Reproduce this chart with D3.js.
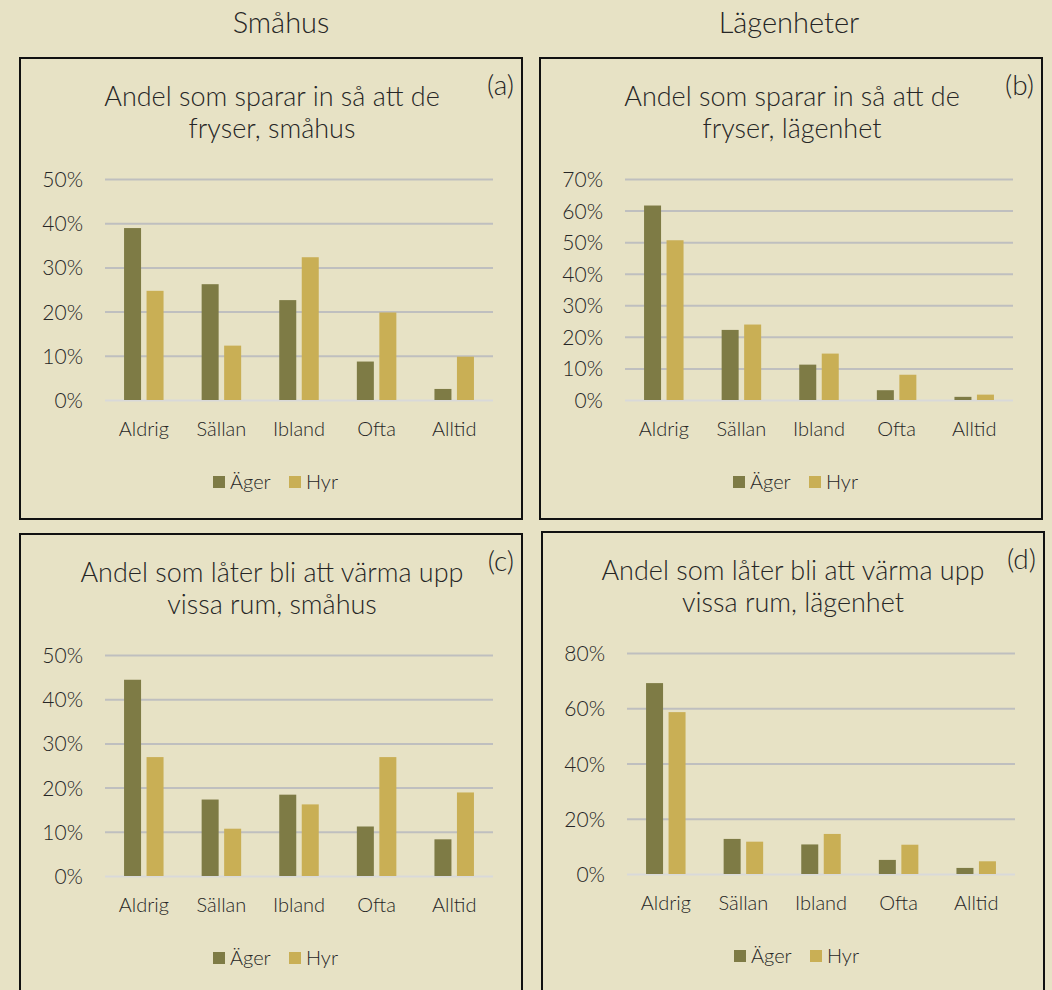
<!DOCTYPE html>
<html>
<head>
<meta charset="UTF-8">
<title>Andel som sparar in / värmer upp</title>
<script src="https://cdn.jsdelivr.net/npm/d3@7"></script>
<style>
  body { margin: 0; background: #e7e2c5; }
  svg text { font-family: Lato, "Open Sans", sans-serif; font-weight: 300; fill: #262626; }
</style>
</head>
<body>
<svg id="chart" width="1052" height="990"></svg>
<script>
// data
var categories = ["Aldrig", "Sällan", "Ibland", "Ofta", "Alltid"];
var seriesNames = ["Äger", "Hyr"];
var colors = ["#7e7b45", "#c9af55"];

var agerA = [38.9, 26.2, 22.6, 8.7, 2.5];
var hyrA  = [24.7, 12.3, 32.3, 19.8, 9.8];
var agerB = [61.6, 22.2, 11.2, 3.1, 1.0];
var hyrB  = [50.6, 23.9, 14.7, 8.0, 1.7];
var agerC = [44.4, 17.3, 18.4, 11.2, 8.3];
var hyrC  = [26.9, 10.7, 16.2, 26.9, 18.9];
var agerD = [69.1, 12.7, 10.7, 5.1, 2.2];
var hyrD  = [58.6, 11.7, 14.5, 10.6, 4.6];

var ticksA = [0, 10, 20, 30, 40, 50];
var ticksB = [0, 10, 20, 30, 40, 50, 60, 70];
var ticksD = [0, 20, 40, 60, 80];

var panels = [
  { box: [20, 58, 502, 461], title: ["Andel som sparar in så att de", "fryser, småhus"], tag: "(a)",
    ager: agerA, hyr: hyrA, ticks: ticksA, plot: [105, 179, 493, 400], cx: 272 },
  { box: [540, 58, 502, 461], title: ["Andel som sparar in så att de", "fryser, lägenhet"], tag: "(b)",
    ager: agerB, hyr: hyrB, ticks: ticksB, plot: [625, 179, 1013, 400], cx: 792 },
  { box: [20, 534, 502, 470], title: ["Andel som låter bli att värma upp", "vissa rum, småhus"], tag: "(c)",
    ager: agerC, hyr: hyrC, ticks: ticksA, plot: [105, 655, 493, 876], cx: 272 },
  { box: [542, 532, 502, 470], title: ["Andel som låter bli att värma upp", "vissa rum, lägenhet"], tag: "(d)",
    ager: agerD, hyr: hyrD, ticks: ticksD, plot: [627, 653, 1015, 874], cx: 793 }
];

var svg = d3.select("#chart");

// column headings
svg.append("text").attr("x", 281).attr("y", 33).attr("text-anchor", "middle")
   .style("font-size", "29px").text("Småhus");
svg.append("text").attr("x", 789).attr("y", 33).attr("text-anchor", "middle")
   .style("font-size", "29px").text("Lägenheter");

panels.forEach(function(p) {
  var g = svg.append("g");
  g.append("rect")
    .attr("x", p.box[0]).attr("y", p.box[1])
    .attr("width", p.box[2]).attr("height", p.box[3])
    .attr("fill", "none").attr("stroke", "#111").attr("stroke-width", 2);

  var x0 = p.plot[0], y0 = p.plot[1], x1 = p.plot[2], y1 = p.plot[3];
  var cx = p.cx;

  p.title.forEach(function(line, i) {
    g.append("text").attr("x", cx).attr("y", p.box[1] + 48 + i * 32)
      .attr("text-anchor", "middle").style("font-size", "27px").text(line);
  });
  g.append("text").attr("x", p.box[0] + p.box[2] - 8).attr("y", p.box[1] + 37)
    .attr("text-anchor", "end").style("font-size", "28px").text(p.tag);

  var x = d3.scaleBand().domain(categories).range([x0, x1]);
  var y = d3.scaleLinear().domain([0, d3.max(p.ticks)]).range([y1, y0]);

  var yAxis = g.append("g").attr("transform", "translate(" + x0 + ",0)")
    .call(d3.axisLeft(y).tickValues(p.ticks).tickSize(-(x1 - x0)).tickPadding(22)
      .tickFormat(function(d) { return d + "%"; }));
  yAxis.select(".domain").remove();
  yAxis.selectAll(".tick line").attr("stroke", function(d) { return d === 0 ? "#d9d9d9" : "#bfbfbf"; })
    .attr("stroke-width", 2);
  yAxis.selectAll(".tick text").style("font-size", "21px").style("font-family", "Lato, sans-serif")
    .attr("fill", "#262626").attr("dy", "0.36em");

  var xAxis = g.append("g").attr("transform", "translate(0," + y1 + ")")
    .call(d3.axisBottom(x).tickSize(0).tickPadding(22));
  xAxis.select(".domain").remove();
  xAxis.selectAll(".tick text").style("font-size", "20px").style("font-family", "Lato, sans-serif")
    .attr("fill", "#262626");

  var barW = 17, gap = 5.5;
  var series = [p.ager, p.hyr];
  series.forEach(function(vals, s) {
    g.selectAll(null).data(vals).enter().append("rect")
      .attr("x", function(d, i) {
        var c = x(categories[i]) + x.bandwidth() / 2;
        return s === 0 ? c - gap / 2 - barW : c + gap / 2;
      })
      .attr("y", function(d) { return y(d); })
      .attr("width", barW)
      .attr("height", function(d) { return y(0) - y(d); })
      .attr("fill", colors[s]);
  });

  // legend
  var ly = y1 + 82;
  var lx = [cx - 59, cx + 17];
  seriesNames.forEach(function(name, s) {
    g.append("rect").attr("x", lx[s]).attr("y", ly - 6).attr("width", 12).attr("height", 12)
      .attr("fill", colors[s]);
    g.append("text").attr("x", lx[s] + 17).attr("y", ly).attr("dy", "0.36em")
      .style("font-size", "20px").text(name);
  });
});
</script>
</body>
</html>
